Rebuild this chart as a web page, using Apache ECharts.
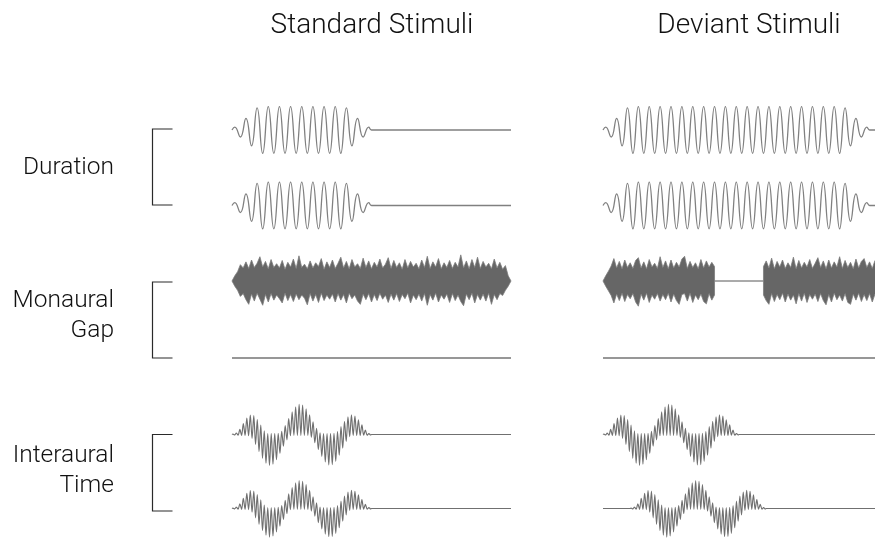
<!DOCTYPE html>
<html><head><meta charset="utf-8">
<script src="https://cdn.jsdelivr.net/npm/echarts/dist/echarts.min.js"></script>
<style>html,body{margin:0;padding:0;background:#fff}#c{width:875px;height:541px}</style>
</head><body><div id="c"></div>
<script>
// ---------- text ----------
const columnTitles = ['Standard Stimuli', 'Deviant Stimuli'];
const rowLabels = ['Duration', 'Monaural\nGap', 'Interaural\nTime'];

// ---------- time window of every trace (ms) ----------
const windowMs = [0, 500];

// ---------- Duration: signed peak of each half-cycle (half-cycle = 10 ms) ----------
const toneHalfCycleMs = 10;
const durationStandardPeaks = [12,-30,50,-68,95,-100,100,-100,100,-100,100,-100,100,-100,100,-100,100,-100,100,-100,95,-68,50,-30,12];
const durationDeviantPeaks = [12,-30,50,-68,95,
  -100,100,-100,100,-100,100,-100,100,-100,100,
  -100,100,-100,100,-100,100,-100,100,-100,100,
  -100,100,-100,100,-100,100,-100,100,-100,100,
  -100,100,-100,100,-100,100,-100,100,-100,
  95,-68,50,-30,12];

// ---------- Monaural gap: noise envelope (upper / lower edge) every 5 ms ----------
const noiseStepMs = 5;
const gapStandardTop = [0,22,40,70,56,82,54,90,58,76, 104,60,84,52,92,58,74,56,88,50, 80,60,94,54,108,58,72,52,86,56, 78,62,96,50,82,58,90,54,76,102, 56,84,52,92,60,74,54,98,58,86, 52,80,60,94,56,72,100,54,88,58, 78,50,92,56,84,60,76,52,90,58, 106,54,82,60,96,52,78,58,88,54, 80,60,112,56,86,52,92,58,102,54, 84,60,76,52,94,56,80,50,66,22, 0];
const gapStandardBottom = [0,-22,-40,-66,-54,-80,-100,-56,-86,-52, -78,-104,-58,-90,-54,-82,-60,-76,-94,-52, -84,-58,-88,-56,-80,-60,-74,-102,-54,-86, -58,-92,-52,-84,-60,-78,-56,-90,-54,-82, -58,-94,-52,-76,-60,-86,-100,-56,-80,-54, -90,-58,-84,-52,-78,-60,-92,-56,-82,-54, -88,-58,-76,-52,-94,-60,-80,-56,-86,-54, -104,-58,-82,-52,-90,-60,-78,-56,-92,-54, -84,-60,-88,-106,-56,-80,-52,-94,-58,-82, -56,-86,-52,-100,-58,-80,-54,-62,-40,-22, 0];
const gapDeviantStartMs = 205, gapDeviantEndMs = 295;
const gapDeviantTopBefore = [0,22,42,64,96,56,84,52,90,58,78,54,88,100,56,82,52,92,60,76,54,104,58,86,52,90,56,80,60,94,106,54,84,58,78,52,92,56,86,60,80,62];
const gapDeviantBottomBefore = [0,-22,-42,-62,-94,-56,-84,-52,-88,-58,-76,-54,-90,-108,-56,-82,-52,-92,-60,-78,-54,-86,-58,-80,-52,-90,-56,-84,-100,-58,-54,-86,-52,-92,-60,-80,-56,-88,-98,-54,-82,-60];
const gapDeviantTopAfter = [62,86,56,98,52,84,60,90,54,78,58,102,52,88,56,80,60,92,54,76,100,58,86,52,90,56,82,60,104,54,88,58,80,52,94,56,84,96,58,82,54,88];
const gapDeviantBottomAfter = [-60,-84,-100,-54,-88,-58,-80,-52,-90,-56,-82,-60,-98,-54,-86,-52,-92,-58,-78,-56,-88,-54,-84,-102,-58,-90,-52,-80,-60,-86,-54,-92,-100,-56,-82,-52,-88,-58,-84,-54,-90,-56];
const silenceLevels = [0, 0];

// ---------- Interaural time: carrier half-cycle extremes (half-cycle = 3.125 ms) ----------
const itdHalfCycleMs = 3.125;
const itdPeaks = [2,-2,6,-3,22,-4,47,-4,70,-5,83,-17,81,-43,64,-73,40,-102,16,-123,4,-132,4,-127,4,-108,5,-81,14,-50,38,-23,68,-5,97,-4,119,-4,129,-4,126,-4,110,-4,84,-12,54,-35,26,-65,7,-94,4,-118,4,-130,4,-129,5,-115,13,-89,34,-59,57,-30,76,-9,84,-4,79,-4,63,-4,41,-3,19,-3,4,-2];
const itdOnsetsMs = [[0, 0], [0, 50]]; // [standard ear1, ear2], [deviant ear1, ear2]

// ---------- layout ----------
const colLeft = [232, 603], colWidth = 279;
const rowCenter = [130, 205.5, 281, 358, 434.5, 511];
const halfH = 35, yLim = 150;

const grids = [], xAxes = [], yAxes = [], series = [];
function panel(r, c) {
  const i = grids.length;
  grids.push({left: colLeft[c], width: colWidth, top: rowCenter[r] - halfH, height: 2 * halfH});
  xAxes.push({type: 'value', gridIndex: i, min: windowMs[0], max: windowMs[1], show: false});
  yAxes.push({type: 'value', gridIndex: i, min: -yLim, max: yLim, show: false});
  return i;
}
function toneData(peaks, half, onset) {
  const d = [[windowMs[0], 0]];
  if (onset > windowMs[0]) d.push([onset, 0]);
  peaks.forEach((v, k) => d.push([onset + (k + 0.5) * half, v]));
  d.push([onset + peaks.length * half, 0]);
  if (onset + peaks.length * half < windowMs[1]) d.push([windowMs[1], 0]);
  return d;
}
function lineSeries(i, data, color, width, smooth) {
  series.push({type: 'line', xAxisIndex: i, yAxisIndex: i, data, showSymbol: false, symbol: 'none',
    smooth: smooth, lineStyle: {color, width}, silent: true, animation: false});
}
function noiseSeries(i, data) {
  series.push({type: 'line', xAxisIndex: i, yAxisIndex: i, data, showSymbol: false, symbol: 'none',
    lineStyle: {color: '#7c7c7c', width: 0.8}, areaStyle: {color: '#666666', opacity: 1, origin: 0}, silent: true, animation: false});
}
function seg(values, start) { return values.map((v, k) => [start + k * noiseStepMs, v]); }

const toneColor = '#808080';
// rows 0,1: duration
for (let r = 0; r < 2; r++) {
  lineSeries(panel(r, 0), toneData(durationStandardPeaks, toneHalfCycleMs, 0), toneColor, 1.3, 0.5);
  lineSeries(panel(r, 1), toneData(durationDeviantPeaks, toneHalfCycleMs, 0), toneColor, 1.3, 0.5);
}
// row 2: monaural gap noise
{
  const a = panel(2, 0);
  noiseSeries(a, seg(gapStandardTop, 0));
  noiseSeries(a, seg(gapStandardBottom, 0));
  const b = panel(2, 1);
  const top = seg(gapDeviantTopBefore, 0).concat([[gapDeviantStartMs, 0], [gapDeviantEndMs, 0]], seg(gapDeviantTopAfter, gapDeviantEndMs));
  const bot = seg(gapDeviantBottomBefore, 0).concat([[gapDeviantStartMs, 0], [gapDeviantEndMs, 0]], seg(gapDeviantBottomAfter, gapDeviantEndMs));
  noiseSeries(b, top);
  noiseSeries(b, bot);
}
// row 3: silence (other ear)
for (let c = 0; c < 2; c++) {
  lineSeries(panel(3, c), [[windowMs[0], silenceLevels[0]], [windowMs[1], silenceLevels[1]]], '#747474', 1.3, false);
}
// rows 4,5: interaural time
for (let ear = 0; ear < 2; ear++) {
  for (let c = 0; c < 2; c++) {
    lineSeries(panel(4 + ear, c), toneData(itdPeaks, itdHalfCycleMs, itdOnsetsMs[c][ear]), '#707070', 1.15, 0.3);
  }
}

// ---------- decorations: titles, labels, brackets ----------
const font = 'Roboto, "Liberation Sans", sans-serif';
const graphic = [];
const titleX = [372, 749];
columnTitles.forEach((t, c) => graphic.push({type: 'text', x: titleX[c], y: 26, style: {text: t, fill: '#111111', font: '300 28px ' + font, textAlign: 'center', textVerticalAlign: 'middle'}}));
const labelY = [167.5, 316, 471];
rowLabels.forEach((t, r) => graphic.push({type: 'text', x: 114, y: labelY[r], style: {text: t, fill: '#111111', font: '300 24.5px ' + font, lineHeight: 30, textAlign: 'right', textVerticalAlign: 'middle'}}));
[[129, 205], [282, 358], [434.5, 511]].forEach(([y0, y1]) => graphic.push({type: 'polyline', shape: {points: [[172.5, y0], [152.5, y0], [152.5, y1], [172.5, y1]]}, style: {stroke: '#2a2a2a', lineWidth: 1.2, fill: null}}));

const chart = echarts.init(document.getElementById('c'), null, {renderer: 'canvas'});
chart.setOption({animation: false, backgroundColor: '#fff', grid: grids, xAxis: xAxes, yAxis: yAxes, series, graphic});
</script></body></html>
